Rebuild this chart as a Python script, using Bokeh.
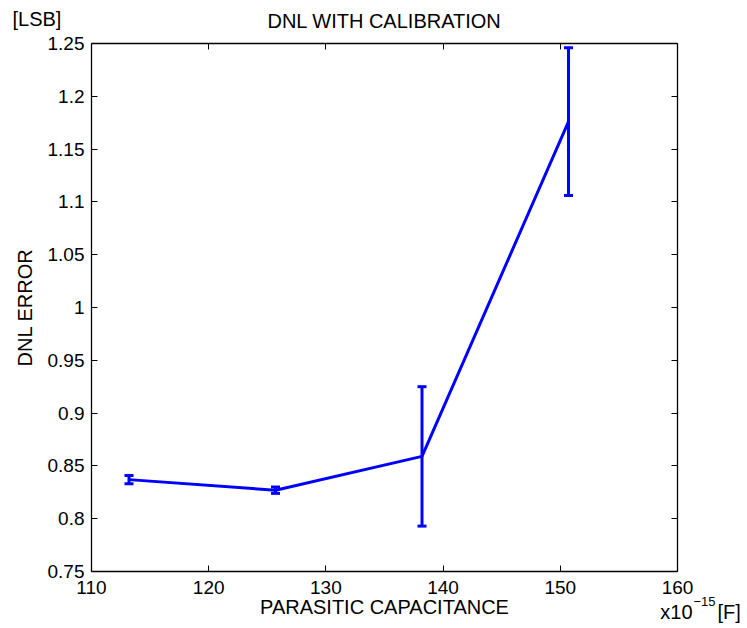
import math
from bokeh.plotting import figure
from bokeh.models import (ColumnDataSource, Range1d, LinearAxis, FixedTicker,
                          Whisker, TeeHead, Label)
from bokeh.embed import file_html
from bokeh.resources import INLINE

# ---- data ----
capacitance = [113.2, 125.7, 138.2, 150.7]        # x10^-15 F
dnl_error = [0.837, 0.827, 0.859, 1.176]          # LSB
dnl_err_bar = [0.004, 0.003, 0.066, 0.070]

x_ticks = [110, 120, 130, 140, 150, 160]
x_tick_labels = ["110", "120", "130", "140", "150", "160"]
y_ticks = [0.75, 0.8, 0.85, 0.9, 0.95, 1.0, 1.05, 1.1, 1.15, 1.2, 1.25]
y_tick_labels = ["0.75", "0.8", "0.85", "0.9", "0.95", "1", "1.05", "1.1", "1.15", "1.2", "1.25"]
x_lo, x_hi = 110, 160
y_lo, y_hi = 0.75, 1.25

# ---- layout (pixels) ----
W, H = 747, 628
BOX_L, BOX_R, BOX_T, BOX_B = 91, 677, 43, 571
FONT = "Liberation Sans"
BLUE = "#0000ff"

kx = (x_hi - x_lo) / (BOX_R - BOX_L)   # data units per pixel
ky = (y_hi - y_lo) / (BOX_B - BOX_T)
def dx(px):
    return x_lo + (px - BOX_L) * kx
def dy(py):
    return y_lo + (BOX_B - py) * ky

src = ColumnDataSource(dict(
    x=capacitance, y=dnl_error,
    upper=[v + e for v, e in zip(dnl_error, dnl_err_bar)],
    lower=[v - e for v, e in zip(dnl_error, dnl_err_bar)],
))

p = figure(width=W, height=H,
           x_range=Range1d(dx(0), dx(W)), y_range=Range1d(dy(H), dy(0)),
           x_axis_location=None, y_axis_location=None,
           output_backend="svg", toolbar_location=None,
           min_border=0, background_fill_color="white", border_fill_color="white")
p.grid.visible = False
p.outline_line_color = None

def make_axis(ticks, labels, loc, bounds, show_labels=True):
    ax = LinearAxis(fixed_location=loc, bounds=bounds)
    ax.ticker = FixedTicker(ticks=ticks)
    ax.major_label_overrides = {t: l for t, l in zip(ticks, labels)}
    ax.major_tick_in = 6
    ax.major_tick_out = 0
    ax.minor_tick_in = 0
    ax.minor_tick_out = 0
    ax.axis_line_color = "black"
    ax.axis_line_width = 1.3
    ax.major_tick_line_color = "black"
    ax.major_label_text_font = FONT
    ax.major_label_text_font_size = "19px"
    ax.major_label_text_color = "black"
    ax.axis_label_text_font = FONT
    ax.axis_label_text_font_size = "20px"
    ax.axis_label_text_font_style = "normal"
    ax.axis_label_text_color = "black"
    if not show_labels:
        ax.major_label_text_alpha = 0
        ax.major_label_text_font_size = "1px"
    return ax

xb = make_axis(x_ticks, x_tick_labels, y_lo, (x_lo, x_hi))
xb.major_label_standoff = 9
xb.axis_label = "PARASITIC CAPACITANCE"
xb.axis_label_standoff = -1
p.add_layout(xb, "below")

yl = make_axis(y_ticks, y_tick_labels, x_lo, (y_lo, y_hi))
yl.major_label_standoff = 7
yl.axis_label = "DNL ERROR"
yl.axis_label_standoff = 9
p.add_layout(yl, "left")

xt = make_axis(x_ticks, x_tick_labels, y_hi, (x_lo, x_hi), show_labels=False)
p.add_layout(xt, "above")
yr = make_axis(y_ticks, y_tick_labels, x_hi, (y_lo, y_hi), show_labels=False)
p.add_layout(yr, "right")

p.line("x", "y", source=src, line_color=BLUE, line_width=3)
wh = Whisker(source=src, base="x", upper="upper", lower="lower",
             dimension="height", line_color=BLUE, line_width=3,
             upper_head=TeeHead(size=9, line_color=BLUE, line_width=3),
             lower_head=TeeHead(size=9, line_color=BLUE, line_width=3))
p.add_layout(wh)

def add_text(txt, px, py, size, align="left"):
    lab = Label(x=dx(px), y=dy(py), text=txt, text_font=FONT,
                text_font_size=size, text_baseline="middle", text_align=align,
                text_color="black")
    p.add_layout(lab)

add_text("DNL WITH CALIBRATION", 384, 20, "20px", "center")
add_text("[LSB]", 12, 18, "20px")
add_text("x10", 692, 611, "20px", "right")
add_text("\u221215", 693, 601, "13px")
add_text("[F]", 717, 611, "20px")

open("out.html", "w").write(file_html(p, INLINE))
